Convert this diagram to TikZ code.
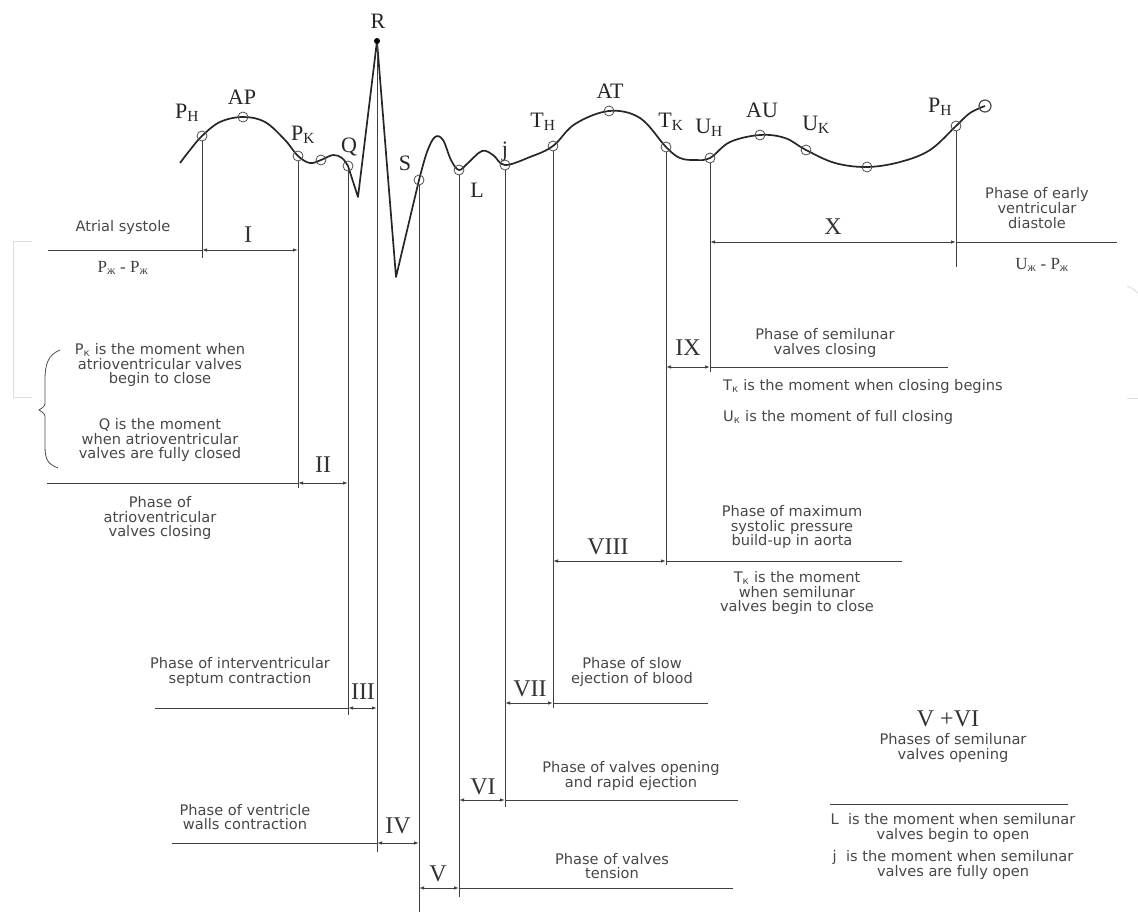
\documentclass[tikz,border=0pt]{standalone}
\usepackage{fontspec}
\setmainfont{DejaVu Sans}
\newfontfamily\lblfont{Liberation Serif}
\usetikzlibrary{arrows.meta,positioning,calc}

\tikzset{
  wave/.style={line width=1.7pt,black!85,line join=round},
  vline/.style={line width=0.9pt,black!75},
  hline/.style={line width=0.9pt,black!75},
  dim/.style={line width=0.9pt,black!75,{Latex[length=5pt,width=3.5pt]}-{Latex[length=5pt,width=3.5pt]}},
  mk/.style={circle,draw=black!70,line width=0.8pt,minimum size=10pt,inner sep=0pt},
  ptlbl/.style={font=\lblfont\fontsize{22}{22}\selectfont,inner sep=0pt,text=black!85},
  numlbl/.style={font=\lblfont\fontsize{24}{24}\selectfont,inner sep=0pt,text=black!80},
  txt/.style={font=\fontsize{14.6}{14.8}\selectfont,text=black!72,align=center,inner sep=0pt},
  frm/.style={font=\lblfont\fontsize{17}{17}\selectfont,text=black!75,inner sep=0pt},
  faint/.style={black!13,line width=1pt},
}

\begin{document}
\begin{tikzpicture}[x=1pt,y=-1pt]
\useasboundingbox (0,0) rectangle (1138,912);
%% ECG curve
\draw[wave] plot[smooth,tension=0.6] coordinates {(180,163) (190,150) (202,136) (220,122)
  (243,117) (265,122) (285,140) (298,156) (310,163) (321,160) (333,155) (342,158) (348,166)}
  -- (358,197) -- (377,41) -- (396,277) -- (419,180);
\draw[wave] plot[smooth,tension=0.6] coordinates {(419,180) (427,152) (435,137) (443,140)
  (451,160) (459,170) (468,163) (482,151) (493,155) (505,165) (530,157) (553,146)
  (575,124) (609,111) (640,118) (666,147) (680,158) (695,160) (710,158) (730,142)
  (760,135) (785,138) (806,150) (835,163) (867,167) (900,162) (930,150) (956,126)
  (970,113) (985,106)};
%% Points on the curve
\foreach \n/\x/\y in {pH/202/136, ap/243/117, pK/298/156, m1/321/160, q/348/166,
                      s/419/180, l/459/170, j/505/165, tH/553/146, at/609/111,
                      tK/666/147, uH/710/158, au/760/135, uK/806/150, m2/867/167,
                      pHb/956/126} {
  \node[mk] (\n) at (\x,\y) {};
}
\node[mk,minimum size=12pt,line width=1.2pt] (fin) at (985,106) {};
\node[circle,fill=black,inner sep=0pt,minimum size=6pt] (r) at (377,41) {};
%% Point labels
\node[ptlbl] (pHl) at (187,113) {P\textsubscript{H}};
\node[ptlbl] (apl) at (242,97) {AP};
\node[ptlbl] (pKl) at (303,135) {P\textsubscript{K}};
\node[ptlbl] (ql) at (349,147) {Q};
\node[ptlbl] (rl) at (378,21) {R};
\node[ptlbl] (sl) at (405,163) {S};
\node[ptlbl] (ll) at (477,190) {L};
\node[ptlbl] (jl) at (505,152) {j};
\node[ptlbl] (tHl) at (543,122) {T\textsubscript{H}};
\node[ptlbl] (atl) at (610,91) {AT};
\node[ptlbl] (tKl) at (671,122) {T\textsubscript{K}};
\node[ptlbl] (uHl) at (709,128) {U\textsubscript{H}};
\node[ptlbl] (aul) at (762,110) {AU};
\node[ptlbl] (uKl) at (816,125) {U\textsubscript{K}};
\node[ptlbl] (pHbl) at (940,107) {P\textsubscript{H}};
%% Drop lines
\foreach \n/\y in {pH/258, pK/488, q/715, r/852, s/912, l/897, j/807, tH/708,
                   tK/565, uH/372, pHb/267} {
  \draw[vline] (\n) -- (\n |- 0,\y);
}
%% Free ends of the phase lines
\coordinate (eI) at (48,250);
\coordinate (eX) at (1117,242);
\coordinate (eIX) at (948,367);
\coordinate (eII) at (47,483);
\coordinate (eVIII) at (902,561);
\coordinate (eIII) at (155,708);
\coordinate (eVII) at (708,703);
\coordinate (eVI) at (738,800);
\coordinate (eIV) at (172,843);
\coordinate (eV) at (733,888);
\draw[hline] (eI) -- (pH |- eI);
\draw[dim] (pH |- eI) -- (pK |- eI);
\draw[dim] (uH |- eX) -- (pHb |- eX);
\draw[hline] (pHb |- eX) -- (eX);
\draw[dim] (tK |- eIX) -- (uH |- eIX);
\draw[hline] (uH |- eIX) -- (eIX);
\draw[hline] (eII) -- (pK |- eII);
\draw[dim] (pK |- eII) -- (q |- eII);
\draw[dim] (tH |- eVIII) -- (tK |- eVIII);
\draw[hline] (tK |- eVIII) -- (eVIII);
\draw[hline] (eIII) -- (q |- eIII);
\draw[dim] (q |- eIII) -- (r |- eIII);
\draw[dim] (j |- eVII) -- (tH |- eVII);
\draw[hline] (tH |- eVII) -- (eVII);
\draw[dim] (l |- eVI) -- (j |- eVI);
\draw[hline] (j |- eVI) -- (eVI);
\draw[hline] (eIV) -- (r |- eIV);
\draw[dim] (r |- eIV) -- (s |- eIV);
\draw[dim] (s |- eV) -- (l |- eV);
\draw[hline] (l |- eV) -- (eV);
%% Phase numbers
\foreach \t/\x/\y in {I/248/235, II/323/465, III/363/692, IV/398/826, V/438/874,
                      VI/483/787, VII/530/689, VIII/608/547, IX/688/348, X/833/227} {
  \node[numlbl] (n\t) at (\x,\y) {\t};
}
%% Texts
\node[txt] (atr) at (123,227) {Atrial systole};
\node[frm] (atrf) at (123,268) {P\textsubscript{ж} - P\textsubscript{ж}};
\node[txt] (early) at (1037,208) {Phase of early\\ventricular\\diastole};
\node[frm] (earlyf) at (1042,265) {U\textsubscript{ж} - P\textsubscript{ж}};
\node[txt] (pkm) at (160,365) {P\textsubscript{к} is the moment when\\atrioventricular valves\\begin to close};
\node[txt] (qm) at (160,440) {Q is the moment\\when atrioventricular\\valves are fully closed};
\node[txt] (avc) at (160,518) {Phase of\\atrioventricular\\valves closing};
\node[txt] (svc) at (825,343) {Phase of semilunar\\valves closing};
\node[txt,anchor=west] (tkm) at (723,386) {T\textsubscript{к} is the moment when closing begins};
\node[txt,anchor=west] (ukm) at (723,417) {U\textsubscript{к} is the moment of full closing};
\node[txt] (maxp) at (792,527) {Phase of maximum\\systolic pressure\\build-up in aorta};
\node[txt] (tkm2) at (797,593) {T\textsubscript{к} is the moment\\when semilunar\\valves begin to close};
\node[txt] (sept) at (240,672) {Phase of interventricular\\septum contraction};
\node[txt] (slow) at (632,672) {Phase of slow\\ejection of blood};
\node[txt] (rapid) at (631,776) {Phase of valves opening\\and rapid ejection};
\node[txt] (walls) at (245,817) {Phase of ventricle\\walls contraction};
\node[txt] (tens) at (612,866) {Phase of valves\\tension};
\node[numlbl] (vvi) at (948,719) {V +VI};
\node[txt] (svo) at (953,748) {Phases of semilunar\\valves opening};
\coordinate (sa) at (830,804);
\coordinate (sb) at (1068,804);
\draw[hline] (sa) -- (sb);
\node[txt] (lm) at (953,828) {L\ \ is the moment when semilunar\\valves begin to open};
\node[txt] (jm) at (953,865) {j\ \ is the moment when semilunar\\valves are fully open};
%% Brace
\draw[line width=0.8pt,black!70] (60,350) .. controls (48,355) and (45,364) .. (45,380)
  -- (45,401) .. controls (45,406) .. (39,410) .. controls (45,414) .. (45,419)
  -- (45,446) .. controls (45,460) and (48,464) .. (58,468);
%% faint edges
\draw[faint] (32,242) -- (13,242) -- (13,397) -- (32,397);
\draw[faint] (1127,286) .. controls (1132,288) .. (1138,293);
\draw[faint] (1127,398) -- (1138,398);
\end{tikzpicture}
\end{document}
